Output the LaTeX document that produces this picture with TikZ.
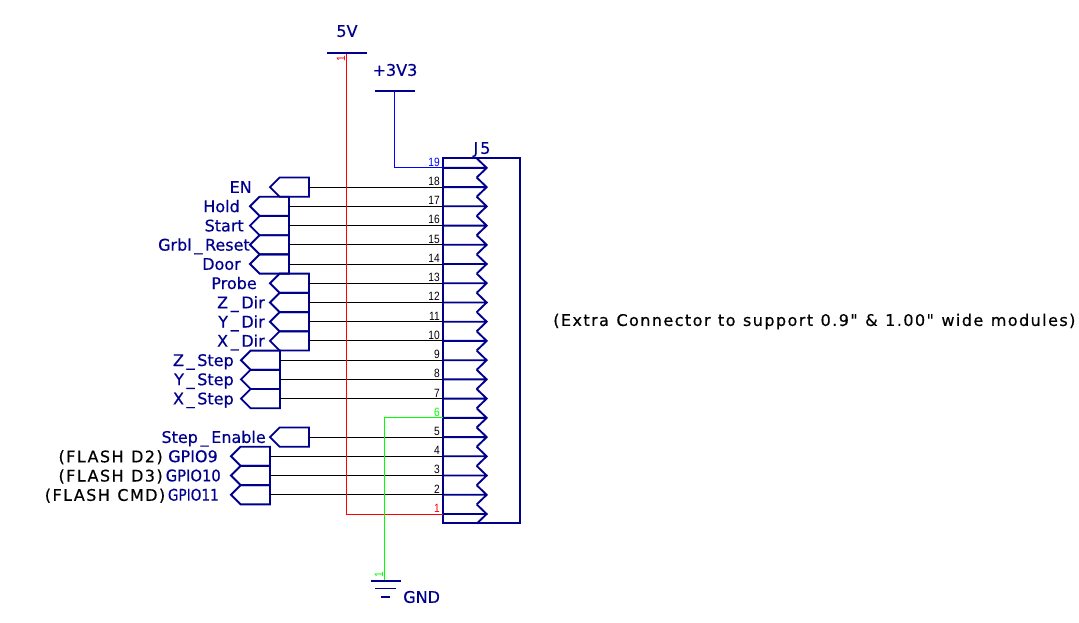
\documentclass[tikz,border=0pt]{standalone}
\usepackage{fontspec}
\setmainfont[FakeBold=0.5]{DejaVu Sans}
\newfontfamily\widefont[LetterSpace=9,WordSpace=1.15,FakeBold=0.5]{DejaVu Sans}
\newfontfamily\pinfont[FakeStretch=0.85]{Liberation Sans}
\usetikzlibrary{shapes.symbols}
\definecolor{partblue}{RGB}{0,0,140}
\newcommand{\us}{\kern2pt\_\kern2pt}
\tikzset{
  part/.style={draw=partblue, line width=1.4pt},
  wire/.style={line width=0.75pt},
  flag/.style={part, signal, signal to=west, signal pointer angle=90, anchor=east,
    minimum width=29.25pt, minimum height=14.42pt, inner sep=0pt, outer sep=0pt},
  netname/.style={text=partblue, font=\fontsize{12}{12}\selectfont, inner sep=0pt, text height=8.7pt, text depth=0pt},
  note/.style={font=\widefont\fontsize{12}{12}\selectfont, inner sep=0pt, anchor=east},
  pinnum/.style={font=\pinfont\fontsize{9}{9}\selectfont, inner sep=0pt, anchor=south east}
}

\begin{document}
\begin{tikzpicture}[x=0.75pt,y=-0.75pt]
		\useasboundingbox (0,0) rectangle (1079,622);
		% connector J5
		\draw[part] (443,158) rectangle (520,523);
		\foreach \n/\y in {1/514,2/494.8,3/475.5,4/456.3,5/437.1,6/417.9,7/398.6,8/379.4,9/360.2,10/340.9,
			11/321.7,12/302.5,13/283.2,14/264,15/244.8,16/225.6,17/206.3,18/187.1,19/167.9}{
			\coordinate (pin\n) at (443,\y);
			\draw[part] (pin\n) -- ++(43.7,0) ++(-10,-9.6) -- ++(10,9.6) -- ++(-10,9.6);
		}
		\node[netname] (j5) at (482,148) {J\kern1.5pt 5};
		% signals: pin / right end of flag / name / right end of name
		\foreach \n/\x/\name/\r in {18/309/EN/252,17/289/Hold/240,16/289/Start/244,15/289/Grbl\us Reset/250,
			14/289/Door/241,13/309/Probe/257,12/309/Z\us Dir/265,11/309/Y\us Dir/265,10/309/X\us Dir/265,
			9/280/Z\us Step/234,8/280/Y\us Step/234,7/280/X\us Step/234,5/309/Step\us Enable/266,
			4/270/GPIO9/218,3/270/\scalebox{.92}[1]{GPIO10}/221,2/270/\scalebox{.85}[1]{GPIO11}/219}{
			\node[flag] (flag\n) at (\x,0 |- pin\n) {};
			\node[netname, anchor=east] (name\n) at (\r,0 |- pin\n) {\name};
			\draw[wire] (flag\n.east) -- (pin\n);
			\node[pinnum] (num\n) at ([xshift=-2.2pt,yshift=1pt]pin\n) {\n};
		}
		\node[note] (d2) at (163,457.3) {(FLASH D2)};
		\node[note] (d3) at (163,476.5) {(FLASH D3)};
		\node[note] (cmd) at (165.5,495.8) {(FLASH CMD)};
		\node[note, anchor=west] (extra) at (553,321.5) {(Extra Connector to support 0.9" \& 1.00" wide modules)};
		% 5V
		\coordinate (vcc) at (346.5,52.7);
		\draw[red, wire] (vcc) |- (pin1);
		\draw[part] (327,52.7) -- (367,52.7);
		\node[netname] (vcclabel) at (347,31) {5V};
		\node[pinnum, text=red, rotate=90, anchor=center] (vccnum) at (341,58.5) {1};
		\node[pinnum, text=red] (num1) at ([xshift=-2.2pt,yshift=1pt]pin1) {1};
		% +3V3
		\coordinate (vdd) at (394.5,91);
		\draw[blue, wire] (vdd) |- (pin19);
		\draw[part] (375,91) -- (415,91);
		\node[netname] (vddlabel) at (395,70) {+3V3};
		\node[pinnum, text=blue] (num19) at ([xshift=-2.2pt,yshift=1pt]pin19) {19};
		% GND
		\coordinate (gnd) at (384.5,581);
		\draw[green, wire] (gnd) |- (pin6);
		\draw[part] (370.7,581) -- (400.7,581);
		\draw[part] (375,588.5) -- (396,588.5);
		\draw[part] (381,597) -- (390,597);
		\node[netname, anchor=west] (gndlabel) at (403,597) {GND};
		\node[pinnum, text=green, rotate=90, anchor=center] (gndnum) at (379,575) {1};
		\node[pinnum, text=green] (num6) at ([xshift=-2.2pt,yshift=1pt]pin6) {6};
		\end{tikzpicture}
\end{document}
